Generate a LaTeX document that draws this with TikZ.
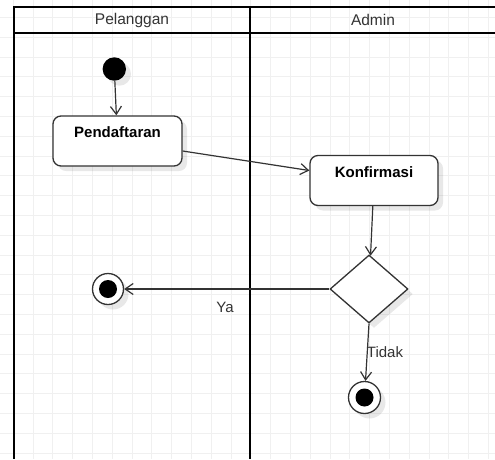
\documentclass[tikz,border=0pt]{standalone}
\usepackage{fontspec}
\setmainfont{Liberation Sans}
\usetikzlibrary{arrows.meta,shapes.geometric,shadows}
\definecolor{linegray}{HTML}{333333}
\definecolor{gridgray}{HTML}{F0F0F0}
\tikzset{
  soft shadow/.style={drop shadow={shadow xshift=5pt, shadow yshift=-5pt, opacity=0.09, fill=black}},
  actbox/.style={rectangle, draw=linegray, line width=1.3pt, fill=white, rounded corners=8pt,
    minimum width=129pt, inner sep=4pt, text height=17.5pt, text depth=24.5pt,
    font=\fontsize{15}{18}\selectfont\bfseries, soft shadow},
  decision/.style={diamond, draw=linegray, line width=1.3pt, fill=white,
    minimum width=78pt, minimum height=68pt, inner sep=0pt, soft shadow},
  startnode/.style={circle, fill=black, minimum size=23.4pt, inner sep=0pt, soft shadow},
  endnode/.style={circle, draw=linegray, line width=1.3pt, fill=white, minimum size=31pt,
    inner sep=0pt, soft shadow, path picture={\fill[black] (path picture bounding box.center) circle (9pt);}},
  flow/.style={draw=linegray, line width=1.2pt, -{Straight Barb[length=8pt,width=11pt]}},
  lane/.style={line width=2.8pt, line join=miter},
  lanetext/.style={font=\fontsize{15.5}{18}\selectfont, text=linegray},
  guard/.style={font=\fontsize{15}{18}\selectfont, text=linegray},
}
\begin{document}
\begin{tikzpicture}[x=1pt, y=-1pt]
\useasboundingbox (0,0) rectangle (495,459);

% grid
\foreach \gx in {13.2,33.0,...,495} \draw[gridgray, line width=0.8pt] (\gx,0) -- (\gx,459);
\foreach \gy in {17.4,37.2,...,459} \draw[gridgray, line width=0.8pt] (0,\gy) -- (495,\gy);

% swimlanes
\draw[lane, line width=2.2pt] (495,7) -- (14,7);
\draw[lane] (14,33) -- (495,33);
\draw[lane] (14,6) -- (14,459);
\draw[lane] (250,6) -- (250,459);
\node[lanetext] (plg) at (132,20) {Pelanggan};
\node[lanetext] (adm) at (373,20) {Admin};

% activities
\node[startnode] (start) at (114.3,69) {};
\node[actbox] (daftar) at (117.5,141) {Pendaftaran};
\node[actbox, minimum width=128pt] (konf) at (374,180.5) {Konfirmasi};
\node[decision] (cek) at (369,289) {};
\node[endnode] (endya) at (108,289) {};
\node[endnode, minimum size=32pt] (endtdk) at (364.5,397.5) {};

\draw[flow] (start) -- (daftar);
\draw[flow] ([yshift=-10pt]daftar.east) -- ([yshift=10pt]konf.west);
\draw[flow] (konf) -- (cek);
\draw[flow] (cek.west) -- (endya);
\draw[flow] (cek.south) -- (endtdk);
\node[guard] (ya) at (225,307) {Ya};
\node[guard] (tdk) at (385,352) {Tidak};
\end{tikzpicture}
\end{document}
